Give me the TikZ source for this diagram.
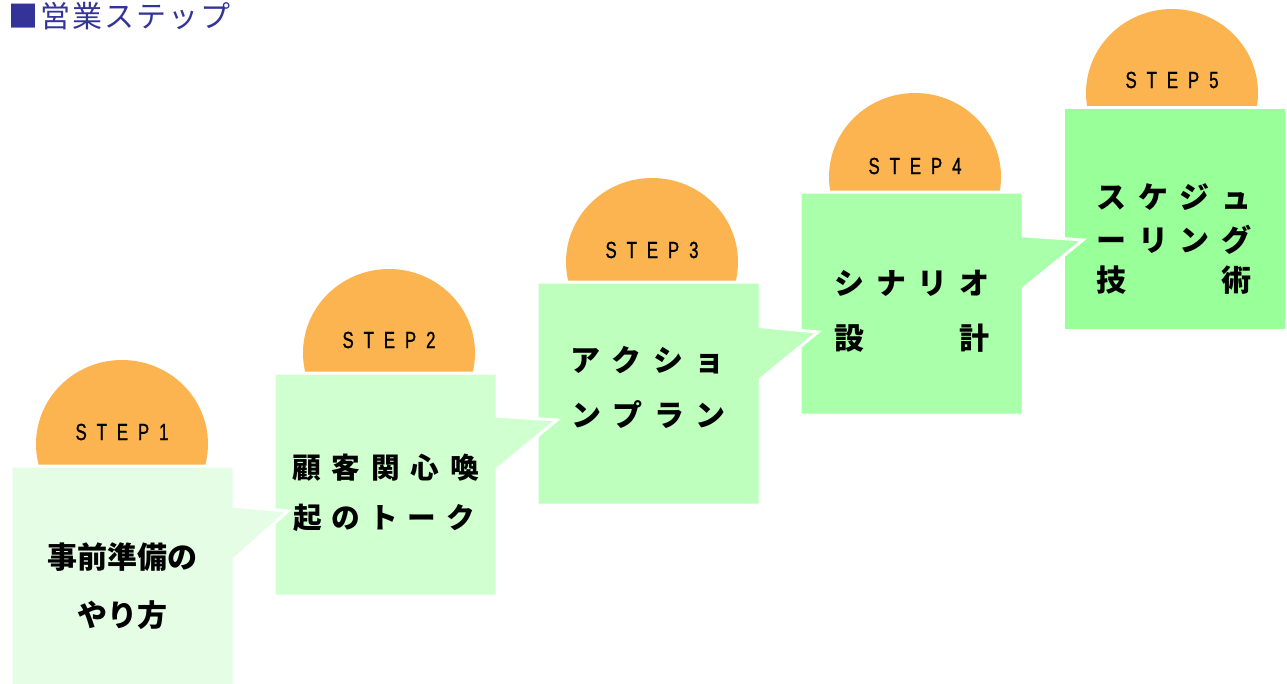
\documentclass[tikz,border=0pt]{standalone}
\usepackage{fontspec}
\usetikzlibrary{shapes.callouts,shapes.geometric}
\newfontfamily\jpfont{Noto Sans CJK JP}
\newfontfamily\stepfont[FakeStretch=0.72,FakeBold=1]{Liberation Sans}
\newlength\px
\setlength\px{0.75pt}
\definecolor{orangeC}{RGB}{251,180,80}
\definecolor{gA}{RGB}{229,253,229}
\definecolor{gB}{RGB}{208,255,208}
\definecolor{gC}{RGB}{190,255,190}
\definecolor{gD}{RGB}{170,255,170}
\definecolor{gE}{RGB}{153,255,153}
\definecolor{titleblue}{RGB}{51,51,153}
\begin{document}
\begin{tikzpicture}[x=0.75pt,y=-0.75pt,
  stepbox/.style={rectangle callout, draw=white, line width=3*\px, minimum width=223*\px, minimum height=223*\px, inner sep=0pt, outer sep=0pt, callout pointer width=53*\px},
  sun/.style={ellipse, fill=orangeC, minimum width=172*\px, minimum height=168*\px, inner sep=0pt},
  steplbl/.style={inner sep=0pt, font=\stepfont\fontsize{17.5}{20}\selectfont},
  bigtxt/.style={inner sep=0pt, font=\jpfont\bfseries\fontsize{22.5}{26}\selectfont},
  midtxt/.style={inner sep=0pt, font=\jpfont\bfseries\fontsize{21.5}{26}\selectfont},
  titletxt/.style={inner sep=0pt, anchor=west, text=titleblue, font=\jpfont\fontsize{22.5}{26}\selectfont}]
\useasboundingbox (0,0) rectangle (1287,683);
% title
\node[titletxt] (title) at (8,16) {\makebox[222\px][s]{■\hfill 営\hfill 業\hfill ス\hfill テ\hfill ッ\hfill プ}};
% suns
\node[sun] (e1) at (122,444) {};
\node[sun] (e2) at (389,353) {};
\node[sun] (e3) at (652,262) {};
\node[sun] (e4) at (915,177) {};
\node[sun] (e5) at (1172,93) {};
% pointer tips
\coordinate (p1) at (288,511);
\coordinate (p2) at (557,420);
\coordinate (p3) at (818,332);
\coordinate (p4) at (1083,240);
% boxes (back to front)
\node[rectangle, draw=white, line width=3*\px, minimum width=223*\px, minimum height=223*\px, inner sep=0pt, fill=gE] (b5) at (1174.5,218.5) {};
\node[stepbox, fill=gD, callout absolute pointer=(p4)] (b4) at (911.5,303.5) {};
\node[stepbox, fill=gC, callout absolute pointer=(p3)] (b3) at (648.5,393.5) {};
\node[stepbox, fill=gB, callout absolute pointer=(p2)] (b2) at (385.5,484.5) {};
\node[stepbox, fill=gA, callout absolute pointer=(p1)] (b1) at (122.5,577.5) {};
% step labels
\node[steplbl] (s1) at (122,432) {\makebox[93\px][s]{S\hfill T\hfill E\hfill P\hfill 1}};
\node[steplbl] (s2) at (389,340) {\makebox[93\px][s]{S\hfill T\hfill E\hfill P\hfill 2}};
\node[steplbl] (s3) at (652,250) {\makebox[93\px][s]{S\hfill T\hfill E\hfill P\hfill 3}};
\node[steplbl] (s4) at (915,166) {\makebox[93\px][s]{S\hfill T\hfill E\hfill P\hfill 4}};
\node[steplbl] (s5) at (1172,80) {\makebox[93\px][s]{S\hfill T\hfill E\hfill P\hfill 5}};
% box texts
\node[bigtxt] (t1a) at (122,557) {事前準備の};
\node[bigtxt] (t1b) at (122,615) {やり方};
\node[midtxt] (t2a) at (385.5,468) {\makebox[187\px][s]{顧\hfill 客\hfill 関\hfill 心\hfill 喚}};
\node[midtxt] (t2b) at (384,518) {\makebox[182\px][s]{起\hfill の\hfill ト\hfill ー\hfill ク}};
\node[bigtxt] (t3a) at (647.5,360) {\makebox[155\px][s]{ア\hfill ク\hfill シ\hfill ョ}};
\node[bigtxt] (t3b) at (648.5,415) {\makebox[155\px][s]{ン\hfill プ\hfill ラ\hfill ン}};
\node[bigtxt] (t4a) at (912,283) {\makebox[155\px][s]{シ\hfill ナ\hfill リ\hfill オ}};
\node[bigtxt] (t4b) at (912,338) {\makebox[155\px][s]{設\hfill 計}};
\node[bigtxt] (t5a) at (1174,197) {\makebox[155\px][s]{ス\hfill ケ\hfill ジ\hfill ュ}};
\node[bigtxt] (t5b) at (1174,240) {\makebox[155\px][s]{ー\hfill リ\hfill ン\hfill グ}};
\node[bigtxt] (t5c) at (1174,280) {\makebox[155\px][s]{技\hfill 術}};
\end{tikzpicture}
\end{document}
